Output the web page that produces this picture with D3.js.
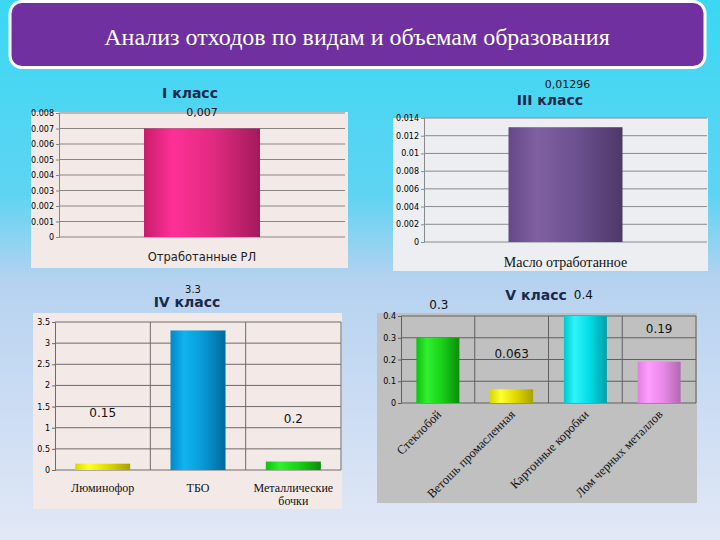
<!DOCTYPE html>
<html><head><meta charset="utf-8">
<script src="https://cdn.jsdelivr.net/npm/d3@7"></script>
<style>body{margin:0;padding:0;overflow:hidden}svg{display:block}</style>
</head><body>
<svg id="c" width="720" height="540"></svg>
<script>
// ---------- data ----------
const mainTitle = "Анализ отходов по видам и объемам образования";

const class1Title = "I класс";
const class1Cats = ["Отработанные РЛ"];
const class1Vals = [0.007];
const class1Labels = ["0,007"];
const class1Ticks = [0, 0.001, 0.002, 0.003, 0.004, 0.005, 0.006, 0.007, 0.008];

const class3Title = "III класс";
const class3Cats = ["Масло отработанное"];
const class3Vals = [0.01296];
const class3Labels = ["0,01296"];
const class3Ticks = [0, 0.002, 0.004, 0.006, 0.008, 0.01, 0.012, 0.014];

const class4Title = "IV класс";
const class4Cats = ["Люминофор", "ТБО", "Металлические бочки"];
const class4Vals = [0.15, 3.3, 0.2];
const class4Labels = ["0.15", "3.3", "0.2"];
const class4Ticks = [0, 0.5, 1, 1.5, 2, 2.5, 3, 3.5];

const class5Title = "V класс";
const class5Cats = ["Стеклобой", "Ветошь промасленная", "Картонные коробки", "Лом черных металлов"];
const class5Vals = [0.3, 0.063, 0.4, 0.19];
const class5Labels = ["0.3", "0.063", "0.4", "0.19"];
const class5Ticks = [0, 0.1, 0.2, 0.3, 0.4];

// ---------- drawing ----------
const svg = d3.select("#c");
const defs = svg.append("defs");

const bg = defs.append("linearGradient").attr("id","bg").attr("x1",0).attr("y1",0).attr("x2",0).attr("y2",1);
[[0,"#3ad8f3"],[0.36,"#5ed4f2"],[0.52,"#b6d2f0"],[1,"#e2e8f6"]].forEach(s=>bg.append("stop").attr("offset",s[0]).attr("stop-color",s[1]));
svg.append("rect").attr("width",720).attr("height",540).attr("fill","url(#bg)");

function barGrad(id, c){
  const g = defs.append("linearGradient").attr("id",id).attr("x1",0).attr("y1",0).attr("x2",1).attr("y2",0);
  [[0,c[0]],[0.25,c[1]],[0.6,c[2]],[1,c[3]]].forEach(s=>g.append("stop").attr("offset",s[0]).attr("stop-color",s[1]));
  return "url(#"+id+")";
}
const gPink = barGrad("gPink", ["#c81c6c","#ff3096","#e02a80","#a41a5c"]);
const gPurple = barGrad("gPurple", ["#654888","#8060a0","#6c5090","#4e3868"]);
const gYellow = barGrad("gYellow", ["#d8d800","#ffff30","#e0d800","#a8a000"]);
const gBlue = barGrad("gBlue", ["#0088c8","#10b4f0","#0898d8","#006a9c"]);
const gGreen = barGrad("gGreen", ["#10c010","#30f030","#18d018","#0c8c0c"]);
const gCyan = barGrad("gCyan", ["#00c8d0","#30f4fa","#00dce4","#00a0a8"]);
const gViolet = barGrad("gViolet", ["#e080e0","#ff9cff","#e888e8","#b068b0"]);

// title box
svg.append("rect").attr("x",10).attr("y",1.5).attr("width",695).attr("height",66).attr("rx",12)
  .attr("fill","#7030a0").attr("stroke","#ffffff").attr("stroke-width",3);
svg.append("text").attr("x",357).attr("y",45).attr("text-anchor","middle")
  .attr("font-family","Liberation Serif, serif").attr("font-size",24).attr("fill","#ffffff").text(mainTitle);

const fmt = d => String(+d.toFixed(6));

function panel(o){
  const g = svg.append("g");
  g.append("rect").attr("x",o.bx).attr("y",o.by).attr("width",o.bw).attr("height",o.bh).attr("fill",o.bg);
  const x = d3.scaleBand().domain(o.cats).range([o.x0,o.x1]).paddingInner(0).paddingOuter(0);
  const y = d3.scaleLinear().domain([0,o.max]).range([o.y0,o.y1]);
  g.append("g").selectAll("line").data(o.ticks).join("line")
    .attr("x1",o.x0).attr("x2",o.x1).attr("y1",d=>y(d)).attr("y2",d=>y(d))
    .attr("stroke",o.grid).attr("stroke-width",1);
  if(o.vgrid){
    g.append("g").selectAll("line").data(o.cats.slice(1)).join("line")
      .attr("x1",d=>x(d)).attr("x2",d=>x(d)).attr("y1",o.y1).attr("y2",o.y0)
      .attr("stroke",o.grid).attr("stroke-width",1);
    g.append("line").attr("x1",o.x1).attr("x2",o.x1).attr("y1",o.y1).attr("y2",o.y0).attr("stroke",o.grid);
  }
  const ax = g.append("g").attr("transform",`translate(${o.x0},0)`)
    .call(d3.axisLeft(y).tickValues(o.ticks).tickFormat(fmt).tickSize(3).tickPadding(2));
  ax.select(".domain").attr("stroke",o.grid);
  ax.selectAll(".tick line").attr("stroke",o.grid);
  ax.selectAll("text").attr("font-family","DejaVu Sans, sans-serif").attr("font-size",8).attr("fill","#000");
  const bw = o.barW;
  g.append("g").selectAll("rect").data(o.vals).join("rect")
    .attr("x",(d,i)=>x(o.cats[i])+x.bandwidth()/2-bw/2).attr("width",bw)
    .attr("y",d=>y(d)).attr("height",d=>o.y0-y(d))
    .attr("fill",(d,i)=>o.fills[i]);
  g.append("g").selectAll("text").data(o.labels).join("text")
    .attr("x",(d,i)=>x(o.cats[i])+x.bandwidth()/2+o.labelPos[i][0])
    .attr("y",(d,i)=>o.labelPos[i][1])
    .attr("text-anchor","middle").attr("font-family","DejaVu Sans, sans-serif")
    .attr("font-size",(d,i)=>o.labelSize[i]).attr("fill","#111").text(d=>d);
  g.append("text").attr("x",o.tx).attr("y",o.ty).attr("text-anchor","middle")
    .attr("font-family","DejaVu Sans, sans-serif").attr("font-weight","bold").attr("font-size",14)
    .attr("fill","#1b2a4c").text(o.title);
  return {g,x,y};
}

// I class
const p1 = panel({bx:31,by:112,bw:317,bh:156,bg:"#f3e9e7",x0:59,x1:345,y0:237,y1:113,max:0.008,
  cats:class1Cats,vals:class1Vals,labels:class1Labels,ticks:class1Ticks,fills:[gPink],barW:116,
  grid:"#8a8585",labelPos:[[0,116]],labelSize:[11],title:class1Title,tx:190,ty:98});
p1.g.append("g").selectAll("text").data(class1Cats).join("text")
  .attr("x",d=>p1.x(d)+p1.x.bandwidth()/2).attr("y",261).attr("text-anchor","middle")
  .attr("font-family","DejaVu Sans, sans-serif").attr("font-size",11.5).attr("fill","#222").text(d=>d);

// III class
const p3 = panel({bx:393,by:118,bw:315,bh:153,bg:"#eceef2",x0:424,x1:707,y0:242,y1:118,max:0.014,
  cats:class3Cats,vals:class3Vals,labels:class3Labels,ticks:class3Ticks,fills:[gPurple],barW:114,
  grid:"#8a8a8e",labelPos:[[2,88]],labelSize:[11],title:class3Title,tx:550,ty:105});
p3.g.append("g").selectAll("text").data(class3Cats).join("text")
  .attr("x",d=>p3.x(d)+p3.x.bandwidth()/2).attr("y",267).attr("text-anchor","middle")
  .attr("font-family","Liberation Serif, serif").attr("font-size",14).attr("fill","#111").text(d=>d);

// IV class
const p4 = panel({bx:33,by:313,bw:309,bh:196,bg:"#f3e9e7",x0:55,x1:341,y0:470,y1:322,max:3.5,
  cats:class4Cats,vals:class4Vals,labels:class4Labels,ticks:class4Ticks,fills:[gYellow,gBlue,gGreen],barW:55,
  grid:"#6e6a6a",vgrid:true,labelPos:[[0,417],[-5,293],[0,423]],labelSize:[12,10,12],title:class4Title,tx:187,ty:307});
p4.g.append("g").selectAll("text").data(class4Cats).join("text")
  .attr("x",d=>p4.x(d)+p4.x.bandwidth()/2).attr("y",492).attr("text-anchor","middle")
  .attr("font-family","Liberation Serif, serif").attr("font-size",12).attr("fill","#111")
  .each(function(d){
    const words = d.split(" ");
    const t = d3.select(this);
    words.forEach((w,i)=>t.append("tspan").attr("x",t.attr("x")).attr("dy",i?13:0).text(w));
  });

// V class
const p5 = panel({bx:377,by:313,bw:320,bh:190,bg:"#c0c0c0",x0:401,x1:696,y0:403,y1:316,max:0.4,
  cats:class5Cats,vals:class5Vals,labels:class5Labels,ticks:class5Ticks,fills:[gGreen,gYellow,gCyan,gViolet],barW:43,
  grid:"#606060",vgrid:true,labelPos:[[1,309],[0,358],[-2,299],[0,333]],labelSize:[12,12,12,12],title:class5Title,tx:536,ty:300});
p5.g.append("g").selectAll("text").data(class5Cats).join("text")
  .attr("transform",d=>`translate(${p5.x(d)+p5.x.bandwidth()/2-2},${409}) rotate(-45)`)
  .attr("text-anchor","end").attr("dy","0.7em")
  .attr("font-family","Liberation Serif, serif").attr("font-size",12.5).attr("fill","#111").text(d=>d);
</script>
</body></html>
